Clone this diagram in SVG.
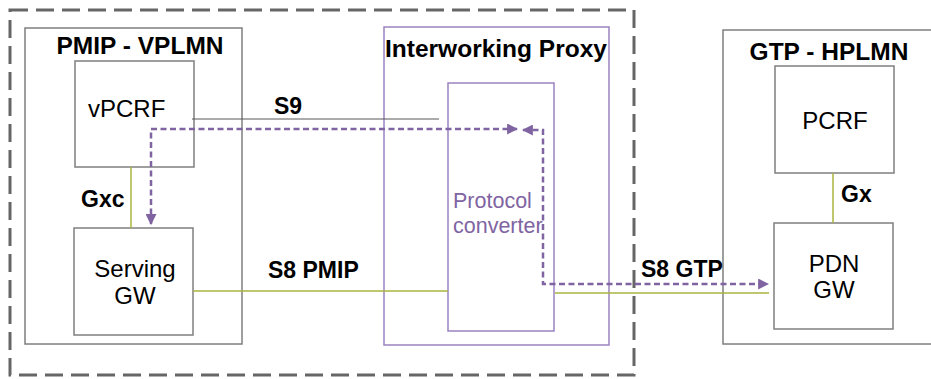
<svg xmlns="http://www.w3.org/2000/svg" width="931" height="379" viewBox="0 0 931 379">
<style>
  .box{fill:none;stroke:#7f7f7f;stroke-width:1.5}
  .pbox{fill:none;stroke:#9b82c0;stroke-width:1.5}
  .title{font-family:"Liberation Sans",Arial,sans-serif;font-weight:bold;font-size:24.5px;fill:#000}
  .lbl{font-family:"Liberation Sans",Arial,sans-serif;font-weight:bold;font-size:23px;fill:#000}
  .node{font-family:"Liberation Sans",Arial,sans-serif;font-size:24px;fill:#000}
  .ptxt{font-family:"Liberation Sans",Arial,sans-serif;font-size:21.5px;fill:#8064a2}
  .olive{stroke:#a9b53c;stroke-width:1.5;fill:none}
  .thin{stroke:#595959;stroke-width:1.2;fill:none}
  .pdash{stroke:#8064a2;stroke-width:2.5;fill:none;stroke-dasharray:6,3.5}
</style>
<defs>
  <marker id="ah" viewBox="0 0 10 10" refX="9" refY="5" markerWidth="4.6" markerHeight="4.4" orient="auto-start-reverse" markerUnits="strokeWidth">
    <path d="M0,0 L10,5 L0,10 z" fill="#8064a2"/>
  </marker>
</defs>
<rect x="0" y="0" width="931" height="379" fill="#fff"/>
<rect id="outer" x="10" y="10" width="624" height="365" fill="none" stroke="#666" stroke-width="3" stroke-dasharray="18,8"/>

<g id="vplmn">
  <rect class="box" x="25" y="28" width="217" height="316"/>
  <text class="title" x="140" y="54" text-anchor="middle">PMIP - VPLMN</text>
</g>
<g id="proxy">
  <rect class="pbox" x="384" y="27" width="225" height="318"/>
  <text class="title" x="496" y="57" text-anchor="middle">Interworking Proxy</text>
</g>
<g id="hplmn">
  <rect class="box" x="723" y="30" width="220" height="314"/>
  <text class="title" x="829" y="60" text-anchor="middle">GTP - HPLMN</text>
</g>

<g id="vpcrf">
  <rect class="box" x="75" y="61" width="119" height="106"/>
  <text class="node" x="88" y="117">vPCRF</text>
</g>
<g id="sgw">
  <rect class="box" x="74" y="228" width="119" height="107"/>
  <text class="node" x="135" y="277" text-anchor="middle">Serving</text>
  <text class="node" x="135" y="304" text-anchor="middle">GW</text>
</g>
<g id="converter">
  <rect class="pbox" x="448" y="83" width="106" height="248"/>
  <text class="ptxt" x="453" y="208">Protocol</text>
  <text class="ptxt" x="453" y="233">converter</text>
</g>
<g id="pcrf">
  <rect class="box" x="775" y="66" width="119" height="107"/>
  <text class="node" x="835" y="129" text-anchor="middle">PCRF</text>
</g>
<g id="pdngw">
  <rect class="box" x="774" y="223" width="119" height="106"/>
  <text class="node" x="834" y="272" text-anchor="middle">PDN</text>
  <text class="node" x="834" y="298" text-anchor="middle">GW</text>
</g>

<g id="connectors">
  <line class="thin" x1="192" y1="119" x2="439" y2="119"/>
  <line class="olive" x1="131" y1="167" x2="131" y2="228"/>
  <line class="olive" x1="193" y1="291" x2="448" y2="291"/>
  <line class="olive" x1="555" y1="293" x2="769" y2="293"/>
  <line class="olive" x1="833" y1="173" x2="833" y2="223"/>
  <path class="pdash" d="M151,224 L151,129 L517,129" marker-start="url(#ah)" marker-end="url(#ah)"/>
  <path class="pdash" d="M523,130 L543,130 L543,284 L768,284" marker-start="url(#ah)" marker-end="url(#ah)"/>
  <text class="lbl" x="274" y="114">S9</text>
  <text class="lbl" x="81" y="207">Gxc</text>
  <text class="lbl" x="268" y="278">S8 PMIP</text>
  <text class="lbl" x="641" y="277">S8 GTP</text>
  <text class="lbl" x="841" y="202">Gx</text>
</g>
</svg>
